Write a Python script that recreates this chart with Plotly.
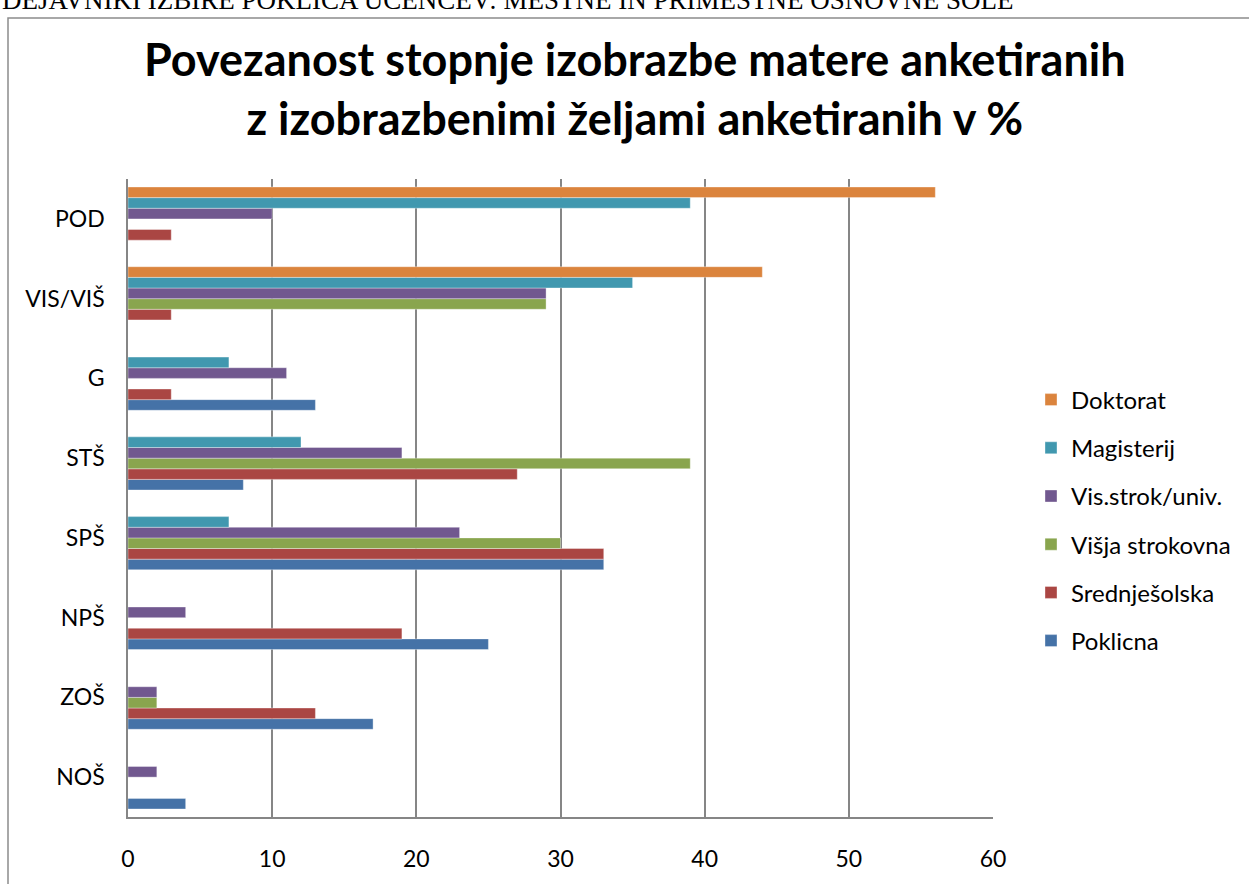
import plotly.graph_objects as go

categories = ["NOŠ", "ZOŠ", "NPŠ", "SPŠ", "STŠ", "G", "VIS/VIŠ", "POD"]

series_names = ["Poklicna", "Srednješolska", "Višja strokovna", "Vis.strok/univ.", "Magisterij", "Doktorat"]
poklicna = [4, 17, 25, 33, 8, 13, 0, 0]
srednjesolska = [0, 13, 19, 33, 27, 3, 3, 3]
visja_strokovna = [0, 2, 0, 30, 39, 0, 29, 0]
vis_strok_univ = [2, 2, 4, 23, 19, 11, 29, 10]
magisterij = [0, 0, 0, 7, 12, 7, 35, 39]
doktorat = [0, 0, 0, 0, 0, 0, 44, 56]
series_values = [poklicna, srednjesolska, visja_strokovna, vis_strok_univ, magisterij, doktorat]
colors = ["#4572A7", "#AA4643", "#89A54E", "#71588F", "#4198AF", "#DB843D"]
legend_ranks = [6, 5, 4, 3, 2, 1]

x_ticks = [0, 10, 20, 30, 40, 50, 60]

title_text = "Povezanost stopnje izobrazbe matere anketiranih<br>z izobrazbenimi željami anketiranih v %"
header_text = "DEJAVNIKI IZBIRE POKLICA UČENCEV: MESTNE IN PRIMESTNE OSNOVNE ŠOLE"

FONT = "Lato"

fig = go.Figure()
for name, vals, col, rk in zip(series_names, series_values, colors, legend_ranks):
    fig.add_trace(go.Bar(
        y=categories, x=vals, name=name, orientation="h",
        marker=dict(color=col, line=dict(color="rgba(255,255,255,0.6)", width=0.6)),
        legendgroup=name, legendrank=rk,
    ))

W, H = 1249, 884
L, R, T, B = 128, 993, 179, 825

def px(xp):
    return (xp - L) / (R - L)

def py(yp):
    return (B - yp) / (B - T)

fig.update_layout(
    width=W, height=H,
    margin=dict(l=L, r=W - R, t=T, b=H - B, pad=0),
    paper_bgcolor="white", plot_bgcolor="white",
    barmode="group", bargap=0.2, bargroupgap=0,
    font=dict(family=FONT, color="#000000", size=23),
    xaxis=dict(range=[0, 60], tickvals=x_ticks, showgrid=True, gridcolor="#868686", gridwidth=1.5,
               showline=True, linecolor="#868686", linewidth=1.5, zeroline=False,
               ticks="", tickfont=dict(size=23, family=FONT), ticklabelstandoff=21),
    yaxis=dict(categoryorder="array", categoryarray=categories, showgrid=False,
               showline=True, linecolor="#868686", linewidth=1.5, ticks="",
               tickfont=dict(size=23, family=FONT), ticklabelstandoff=17),
    legend=dict(x=px(1031), y=py(380), xanchor="left", yanchor="top",
                traceorder="grouped", tracegroupgap=14,
                font=dict(size=24, family=FONT), itemwidth=30, bgcolor="rgba(0,0,0,0)"),
    showlegend=True,
)

fig.add_annotation(
    text="<b>" + title_text + "</b>", xref="paper", yref="paper",
    x=px(635), y=py(87), xanchor="center", yanchor="middle",
    showarrow=False, font=dict(size=45, family=FONT, color="#000000"), align="center",
)

fig.add_annotation(
    text=header_text, xref="paper", yref="paper",
    x=px(0), y=py(15), xanchor="left", yanchor="bottom",
    showarrow=False, font=dict(size=27, family="Liberation Serif", color="#000000"),
)

fig.add_shape(type="rect", xref="paper", yref="paper",
              x0=px(8), y0=py(16), x1=px(1300), y1=py(950),
              line=dict(color="#8C8C8C", width=1.5), fillcolor="rgba(0,0,0,0)", layer="below")

fig.write_html("out.html", config={"displayModeBar": False},
               post_script="document.body.style.margin='0px';")
